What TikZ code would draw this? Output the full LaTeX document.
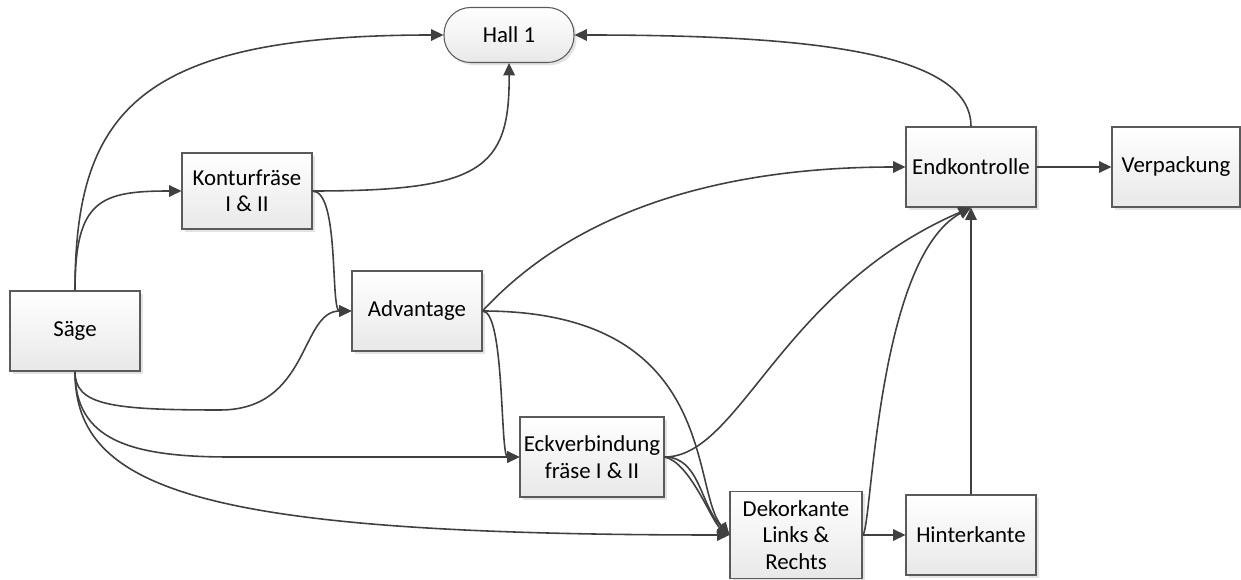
\documentclass[tikz,border=0pt]{standalone}
\usepackage{fontspec}
\setmainfont{Carlito}
\usetikzlibrary{arrows.meta,shadows}
\definecolor{linegray}{HTML}{404040}
\definecolor{framegray}{HTML}{5A5A5A}
\begin{document}
\begin{tikzpicture}[x=0.02cm, y=-0.02cm,
    box/.style={draw=framegray, line width=0.6pt, top color=white, bottom color=black!9,
        drop shadow={shadow xshift=1.5pt, shadow yshift=-1.5pt, fill=black!22},
        minimum width=2.6cm, minimum height=1.6cm, align=center, inner sep=2pt,
        font=\fontsize{13}{15}\selectfont},
    terminal/.style={box, minimum height=1.1cm, rounded corners=0.53cm},
    flow/.style={draw=linegray, line width=0.9pt, -{Triangle[length=7pt,width=6.5pt]}}]
    \useasboundingbox (0,0) rectangle (1241,580);

    \draw (75,331) node[box] (saege) {Säge};
    \draw (247,191) node[box, minimum height=1.52cm] (kontur) {Konturfräse\\I \& II};
    \draw (509,35) node[terminal] (hall) {Hall 1};
    \draw (417,311) node[box] (advantage) {Advantage};
    \draw (592,457) node[box, minimum width=2.88cm] (eck) {Eckverbindung\\fräse I \& II};
    \draw (796,535) node[box, minimum width=2.64cm, minimum height=1.74cm] (dekor) {Dekorkante\\Links \&\\Rechts};
    \draw (971,535) node[box] (hinter) {Hinterkante};
    \draw (971,167) node[box] (endk) {Endkontrolle};
    \draw (1176,167) node[box, minimum width=2.56cm] (verp) {Verpackung};

    \draw[flow] (saege.north) .. controls (75,110) and (140,35) .. (hall.west);
    \draw[flow] (saege.north) .. controls (75,200) and (100,191) .. (kontur.west);
    \draw[flow] (saege.south) .. controls (75,405) and (110,410) .. (220,410)
        .. controls (310,410) and (300,311) .. (advantage.west);
    \draw[flow] (saege.south) .. controls (75,440) and (130,457) .. (230,457) -- (eck.west);
    \draw[flow] (saege.south) .. controls (75,490) and (200,535) .. (dekor.west);

    \draw[flow] (kontur.east) .. controls (480,191) and (510,170) .. (hall.south);
    \draw[flow] (kontur.east) .. controls (340,191) and (330,311) .. (advantage.west);

    \draw[flow] (advantage.east) .. controls (530,260) and (640,167) .. (endk.west);
    \draw[flow] (advantage.east) .. controls (505,311) and (500,457) .. (eck.west);
    \draw[flow] (advantage.east) .. controls (720,311) and (690,490) .. (dekor.west);

    \draw[flow] (eck.east) .. controls (740,457) and (780,290) .. (endk.south);
    \draw[flow] (eck.east) .. controls (700,457) and (700,505) .. (dekor.west);
    \draw[flow] (eck.east) .. controls (690,462) and (712,522) .. (dekor.west);

    \draw[flow] (dekor.east) -- (hinter.west);
    \draw[flow] (dekor.east) .. controls (872,535) and (875,260) .. (endk.south);
    \draw[flow] (hinter.north) -- (endk.south);

    \draw[flow] (endk.north) .. controls (971,50) and (800,35) .. (hall.east);
    \draw[flow] (endk.east) -- (verp.west);
\end{tikzpicture}
\end{document}
